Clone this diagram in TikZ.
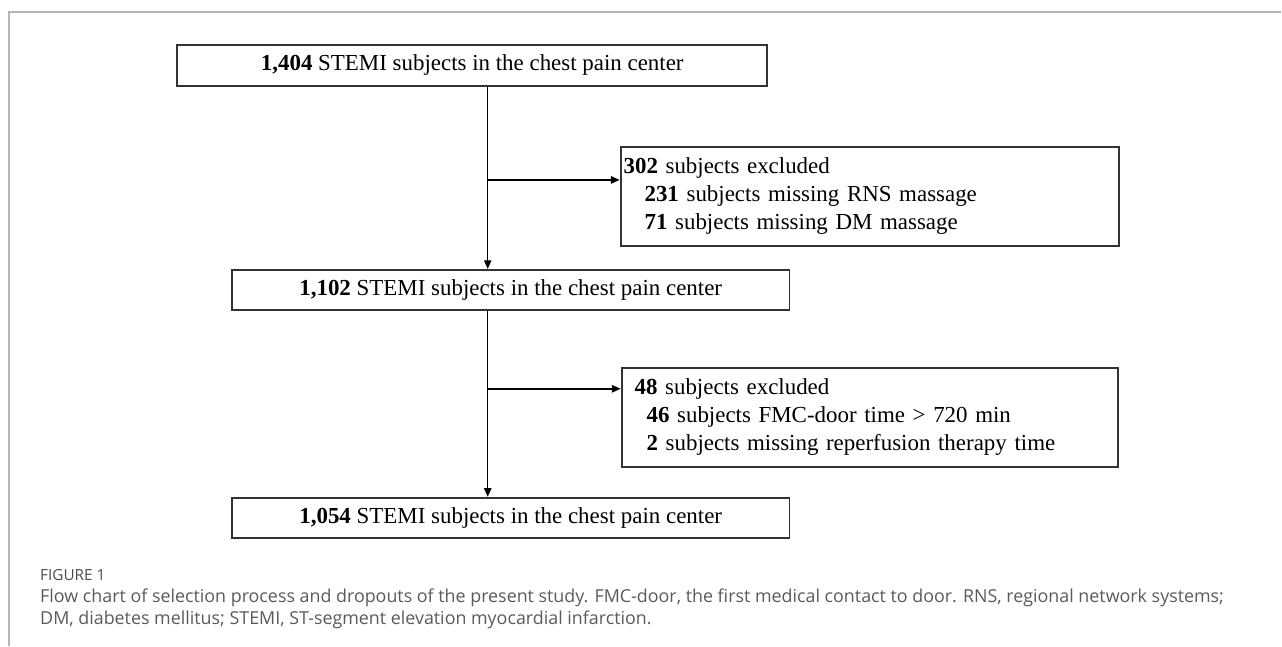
\documentclass[tikz,border=0pt]{standalone}
\usepackage{fontspec}
\setmainfont{Liberation Serif}
\newfontfamily\capfont{Open Sans}
\usetikzlibrary{arrows.meta}
\definecolor{rule}   {HTML}{B4B4B4}
\definecolor{boxline}{HTML}{333333}
\definecolor{capgray}{HTML}{5A5A5A}
\newcommand{\boxfont}{\fontsize{17.2}{21}\selectfont}

\begin{document}
\begin{tikzpicture}[x=0.75pt,y=-0.75pt,
    flowbox/.style={draw=boxline,line width=1.4pt,inner sep=0pt,font=\boxfont},
    exbox/.style  ={flowbox,anchor=north west,align=left,inner xsep=2.25pt},
    flowline/.style={draw=black,line width=1.1pt},
    flowarrow/.style={flowline,-{Triangle[length=6.5pt,width=5.5pt]}},
  ]

% fixed bounding box -> same size as the page image
\path (0,0) rectangle (1282,646);

% ---- page rule -------------------------------------------------------------
\draw[rule,line width=1.1pt] (9,646) -- (9,12) -- (1282,12);

% ---- main column -----------------------------------------------------------
\node[flowbox,minimum width=443pt,minimum height=30.75pt] (all)
  at (472.5,65.5) {\textbf{1,404} STEMI subjects in the chest pain center};
\node[flowbox,minimum width=418.5pt,minimum height=30pt] (kept)
  at (511,290) {\textbf{1,102} STEMI subjects in the chest pain center};
\node[flowbox,minimum width=418.5pt,minimum height=30pt] (final)
  at (511,518) {\textbf{1,054} STEMI subjects in the chest pain center};

% ---- exclusions ------------------------------------------------------------
\node[exbox,text width=369.75pt,minimum height=74.25pt] (exA) at (620,146)
  {\textbf{302} subjects excluded\\
   \hspace*{15.75pt}\textbf{231} subjects missing RNS massage\\
   \hspace*{15.75pt}\textbf{71} subjects missing DM massage};
\node[exbox,text width=368.25pt,minimum height=74.25pt] (exB) at (621,367)
  {\hspace*{7.5pt}\textbf{48} subjects excluded\\
   \hspace*{16.5pt}\textbf{46} subjects FMC-door time > 720 min\\
   \hspace*{16.5pt}\textbf{2} subjects missing reperfusion therapy time};

% ---- connectors ------------------------------------------------------------
\coordinate (trunk) at (488,0);
\coordinate (forkA) at (488,180);
\coordinate (forkB) at (488,389);

\draw[flowarrow] (all.south -| trunk) -- (kept.north -| trunk);
\draw[flowarrow] (kept.south -| trunk) -- (final.north -| trunk);
\draw[flowarrow] (forkA) -- (forkA -| exA.west);
\draw[flowarrow] (forkB) -- (forkB -| exB.west);

% ---- caption ---------------------------------------------------------------
\node[anchor=west,font=\capfont\fontsize{11.5}{13}\selectfont,text=capgray!85!black,inner sep=0pt]
  (figno) at (40,575) {FIGURE 1};
\node[anchor=north west,align=left,font=\capfont\fontsize{13.4}{16.5}\selectfont,
      text=capgray,inner sep=0pt] (caption) at (40,589)
  {Flow chart of selection process and dropouts of the present study. FMC-door, the first medical contact to door. RNS, regional network systems;\\
   DM, diabetes mellitus; STEMI, ST-segment elevation myocardial infarction.};

\end{tikzpicture}
\end{document}
